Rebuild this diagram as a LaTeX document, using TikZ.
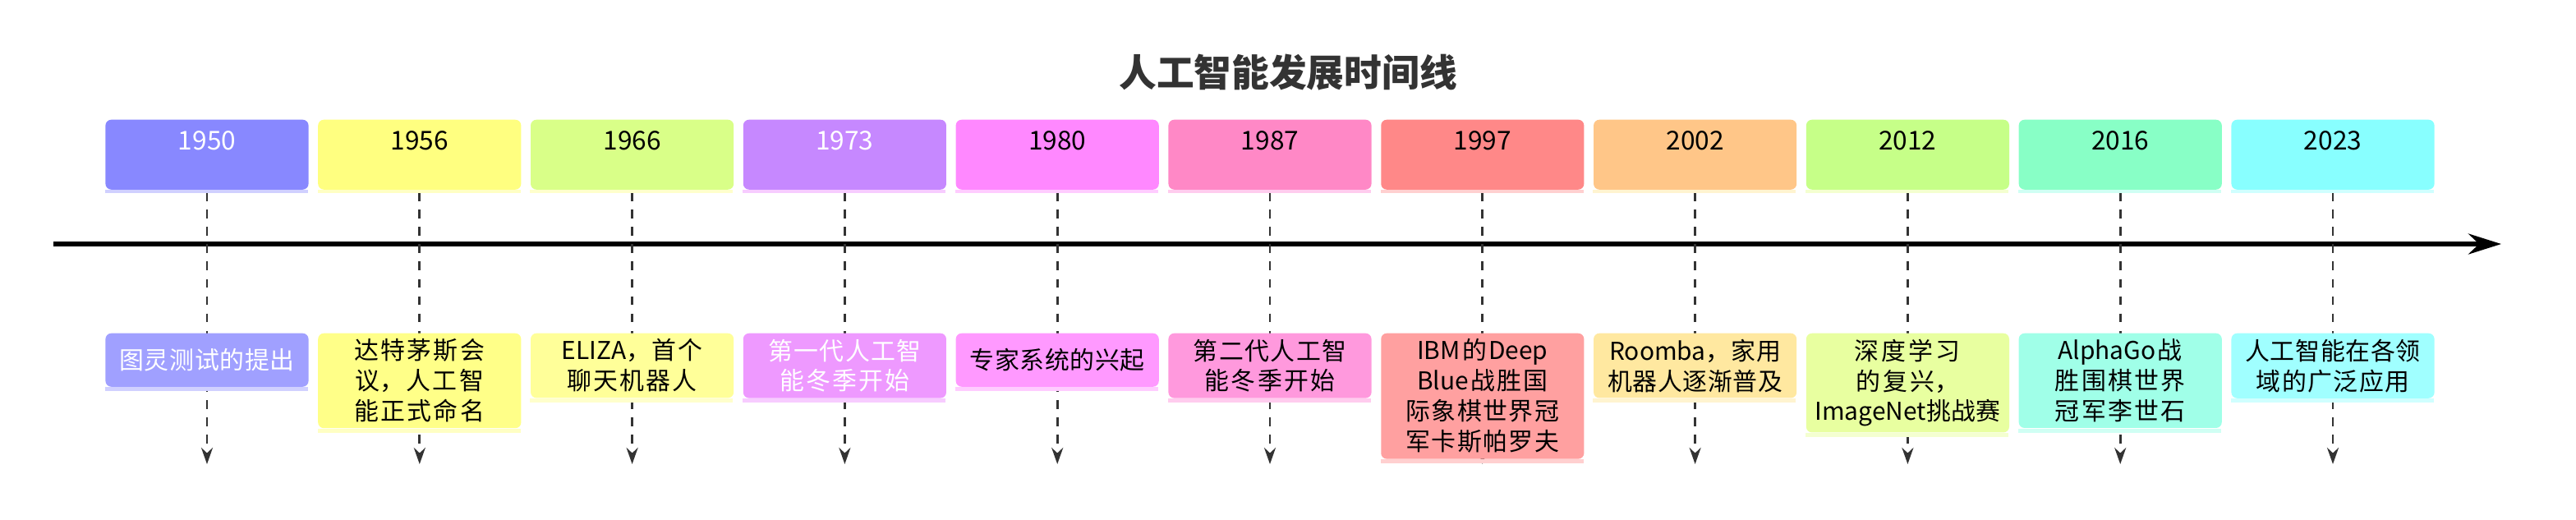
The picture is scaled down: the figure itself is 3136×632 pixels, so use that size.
\documentclass[tikz,border=0pt]{standalone}
\usepackage{fontspec}
\setmainfont{Noto Sans CJK SC}
\XeTeXlinebreaklocale "zh"
\XeTeXlinebreakskip=0pt plus 1pt
\usetikzlibrary{arrows.meta, positioning}

\definecolor{c1950}{HTML}{8888FF}\definecolor{d1950}{HTML}{A0A0FF}
\definecolor{c1956}{HTML}{FFFF80}\definecolor{d1956}{HTML}{FFFF88}
\definecolor{c1966}{HTML}{D9FF88}\definecolor{d1966}{HTML}{FFFF99}
\definecolor{c1973}{HTML}{C688FF}\definecolor{d1973}{HTML}{EE99FF}
\definecolor{c1980}{HTML}{FF88FF}\definecolor{d1980}{HTML}{FF99FF}
\definecolor{c1987}{HTML}{FF88C6}\definecolor{d1987}{HTML}{FF99DD}
\definecolor{c1997}{HTML}{FF8888}\definecolor{d1997}{HTML}{FFA0A0}
\definecolor{c2002}{HTML}{FFC688}\definecolor{d2002}{HTML}{FFE8A0}
\definecolor{c2012}{HTML}{C6FF88}\definecolor{d2012}{HTML}{E8FFA0}
\definecolor{c2016}{HTML}{88FFC6}\definecolor{d2016}{HTML}{A0FFE8}
\definecolor{c2023}{HTML}{88FFFF}\definecolor{d2023}{HTML}{A0FFFF}

\begin{document}
\begin{tikzpicture}[x=0.01cm, y=-0.01cm,
  every node/.style={align=center, font=\fontsize{9}{11}\selectfont},
  % year boxes on top
  yearbox/.style={rectangle, rounded corners=2pt, minimum width=2.47cm, minimum height=0.85cm, inner sep=0pt},
  % event boxes below the axis
  eventbox/.style={rectangle, rounded corners=2pt, text width=2.35cm, minimum height=0.65cm, inner xsep=0.06cm, inner ysep=2pt, font=\fontsize{8.5}{10.5}\selectfont},
  axis/.style={-{Stealth[length=4mm, width=2.5mm]}, line width=1.6pt},
  guide/.style={-{Stealth[length=2mm, width=1.4mm]}, dashed, thick, draw=black!80}
]
\useasboundingbox (0,0) rectangle (3136,632);

% === TITLE ===
\node[font=\fontsize{13}{15}\selectfont\bfseries, text=black!80] (title) at (1568,88) {人工智能发展时间线};

% === AXIS ===
\coordinate (axstart) at (65,297);
\coordinate (axend) at (3045,297);
\draw[axis] (axstart) -- (axend);

% === YEARS AND EVENTS ===
\foreach \i/\yr/\tc/\ev in {
  0/1950/white/图灵测试的提出,
  1/1956/black/达特茅斯会议，人工智能正式命名,
  2/1966/black/ELIZA，首个聊天机器人,
  3/1973/white/第一代人工智能冬季开始,
  4/1980/black/专家系统的兴起,
  5/1987/black/第二代人工智能冬季开始,
  6/1997/black/IBM的Deep Blue战胜国际象棋世界冠军卡斯帕罗夫,
  7/2002/black/Roomba，家用机器人逐渐普及,
  8/2012/black/深度学习的复兴，ImageNet挑战赛,
  9/2016/black/AlphaGo战胜围棋世界冠军李世石,
  10/2023/black/人工智能在各领域的广泛应用}
{
  \coordinate (t\yr) at ({252+258.8*\i},234);
  \coordinate (g\yr) at ({252+258.8*\i},565);
  \draw[guide] (t\yr) -- (g\yr);
  \node[yearbox, fill=c\yr, text=\tc, anchor=north] (y\yr) at ({252+258.8*\i},145) {\raisebox{0.35cm}{\yr}};
  \fill[d\yr!50] (y\yr.south west) rectangle ++(247,4);
  \node[eventbox, fill=d\yr, text=\tc, anchor=north] (e\yr) at ({252+258.8*\i},405) {\ev};
  \fill[d\yr!50] (e\yr.south west) rectangle ++(247,5);
}
\end{tikzpicture}
\end{document}
